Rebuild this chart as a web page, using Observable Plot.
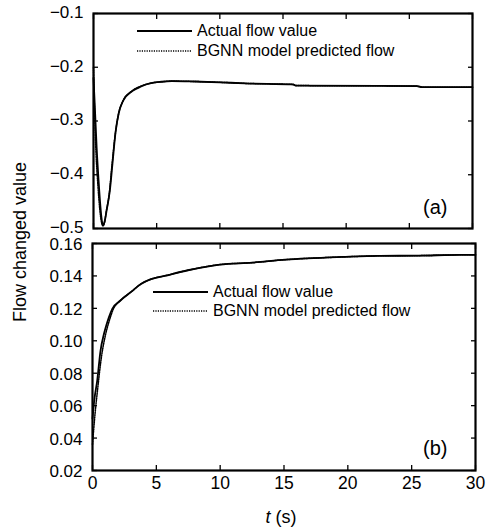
<!DOCTYPE html>
<html><head><meta charset="utf-8">
<script src="https://cdn.jsdelivr.net/npm/d3@7"></script>
<script src="https://cdn.jsdelivr.net/npm/@observablehq/plot@0.6"></script>
<style>
body{margin:0;background:#fff;font-family:"Liberation Sans",Arial,sans-serif;color:#000;}
#fig{position:relative;width:489px;height:530px;overflow:hidden;}
.pl{position:absolute;left:0;}
.lg{position:absolute;font-size:16px;white-space:nowrap;line-height:1;}
.abs{position:absolute;white-space:nowrap;line-height:1;}
</style></head><body><div id="fig"></div>
<script>
// ---- Panel (a) data ----
const tActualA = [0, 0.1, 0.25, 0.4, 0.55, 0.68, 0.77, 0.9, 1.05, 1.29, 1.5, 1.75, 2.0, 2.35, 2.97, 3.5, 4.05, 5.37, 6.2, 8, 10, 12, 15.8, 16, 25.6, 26, 30];
const actualA = [-0.22, -0.27, -0.35, -0.41, -0.46, -0.488, -0.494, -0.485, -0.465, -0.43, -0.38, -0.32, -0.285, -0.262, -0.246, -0.239, -0.233, -0.227, -0.2257, -0.2265, -0.228, -0.230, -0.232, -0.234, -0.235, -0.237, -0.237];
const tPredA = [0, 0.08, 0.2, 0.35, 0.5, 0.65, 0.75, 0.88, 1.0, 1.25, 1.45, 1.72, 1.98, 2.35, 3.0, 4.0, 5.4, 6.2, 8, 10, 12, 15.8, 16, 25.6, 26, 30];
const predA = [-0.2, -0.28, -0.36, -0.42, -0.465, -0.49, -0.495, -0.488, -0.47, -0.435, -0.385, -0.325, -0.287, -0.262, -0.245, -0.233, -0.227, -0.2257, -0.2265, -0.228, -0.230, -0.232, -0.234, -0.235, -0.237, -0.237];
const yTicksA = [-0.5, -0.4, -0.3, -0.2, -0.1];

// ---- Panel (b) data ----
const tActualB = [0, 0.15, 0.37, 0.63, 0.89, 1.1, 1.29, 1.55, 2.21, 3.0, 3.79, 4.58, 5.63, 7.47, 9.97, 12.5, 15.1, 19.6, 22.5, 25.5, 28.8, 30];
const actualB = [0.052, 0.064, 0.0755, 0.094, 0.104, 0.110, 0.1146, 0.1197, 0.125, 0.130, 0.135, 0.138, 0.140, 0.1435, 0.147, 0.1482, 0.150, 0.1517, 0.1524, 0.1525, 0.153, 0.153];
const tPredB = [0, 0.2, 0.4, 0.7, 1.0, 1.3, 1.6, 2.21, 3.0, 3.79, 4.58, 5.63, 7.47, 9.97, 12.5, 15.1, 19.6, 22.5, 25.5, 28.8, 30];
const predB = [0.036, 0.055, 0.07, 0.09, 0.103, 0.112, 0.119, 0.125, 0.130, 0.135, 0.138, 0.140, 0.1435, 0.147, 0.1482, 0.150, 0.1517, 0.1524, 0.1525, 0.153, 0.153];
const yTicksB = [0.02, 0.04, 0.06, 0.08, 0.10, 0.12, 0.14, 0.16];

const xTicks = [0, 5, 10, 15, 20, 25, 30];
const seriesNames = ["Actual flow value", "BGNN model predicted flow"];
const panelLabels = ["(a)", "(b)"];
const yTitle = "Flow changed value";

const font = '"Liberation Sans", Arial, sans-serif';
const fig = document.getElementById("fig");

function panel({t1, v1, t2, v2, yDomain, yTicks, yFmt, yDy, showX, height, mL, mR, mT, mB}) {
  const blank = () => "";
  const marks = [
    Plot.line(t2.map((t, i) => ({t, v: v2[i]})), {x: "t", y: "v", stroke: "#000", strokeWidth: 1.5, strokeDasharray: "1.2,1.2", curve: "monotone-x"}),
    Plot.line(t1.map((t, i) => ({t, v: v1[i]})), {x: "t", y: "v", stroke: "#000", strokeWidth: 1.8, curve: "monotone-x"}),
    Plot.axisY({anchor: "left", ticks: yTicks, tickSize: 0, tickPadding: 10, tickFormat: d3.format(yFmt), label: null, fontSize: 17, dy: yDy}),
    Plot.axisY({anchor: "left", ticks: yTicks, tickSize: -5, tickFormat: blank, label: null, strokeWidth: 1.3}),
    Plot.axisY({anchor: "right", ticks: yTicks, tickSize: -5, tickFormat: blank, label: null, strokeWidth: 1.3}),
    Plot.axisX({anchor: "top", ticks: xTicks, tickSize: -5, tickFormat: blank, label: null, strokeWidth: 1.3}),
    Plot.axisX({anchor: "bottom", ticks: xTicks, tickSize: -5, tickPadding: 11, tickFormat: showX ? d3.format("d") : blank, label: null, fontSize: 17.5, strokeWidth: 1.3}),
    Plot.frame({stroke: "#000", strokeWidth: 2.2})
  ];
  return Plot.plot({
    width: 489, height,
    marginLeft: mL, marginRight: mR, marginTop: mT, marginBottom: mB,
    x: {domain: [0, 30]},
    y: {domain: yDomain},
    style: {fontFamily: font, fontSize: "17.5px", background: "transparent", overflow: "visible", color: "#000"},
    marks
  });
}

const pA = panel({t1: tActualA, v1: actualA, t2: tPredA, v2: predA, yDomain: [-0.5, -0.1], yTicks: yTicksA, yFmt: ".1f", yDy: -1, showX: false, height: 240, mL: 93, mR: 17, mT: 13, mB: 12});
pA.classList.add("pl"); pA.style.top = "0px";
fig.appendChild(pA);

const pB = panel({t1: tActualB, v1: actualB, t2: tPredB, v2: predB, yDomain: [0.02, 0.16], yTicks: yTicksB, yFmt: ".2f", yDy: 1, showX: true, height: 300, mL: 92, mR: 14, mT: 13, mB: 60});
pB.classList.add("pl"); pB.style.top = "230px";
fig.appendChild(pB);

// legends
function legend(x, y1, y2) {
  const rows = [[y1, null], [y2, "1.2,1.2"]];
  rows.forEach(([y, dash], i) => {
    const d = document.createElement("div");
    d.className = "lg";
    d.style.left = (x + 60) + "px";
    d.style.top = (y - 8) + "px";
    d.textContent = seriesNames[i];
    fig.appendChild(d);
    const s = document.createElementNS("http://www.w3.org/2000/svg", "svg");
    s.setAttribute("width", 58); s.setAttribute("height", 6);
    s.style.position = "absolute"; s.style.left = x + "px"; s.style.top = (y - 3) + "px";
    const l = document.createElementNS("http://www.w3.org/2000/svg", "line");
    l.setAttribute("x1", 0); l.setAttribute("x2", 55); l.setAttribute("y1", 3); l.setAttribute("y2", 3);
    l.setAttribute("stroke", "#000"); l.setAttribute("stroke-width", dash ? 1.6 : 1.8);
    if (dash) l.setAttribute("stroke-dasharray", dash);
    s.appendChild(l); fig.appendChild(s);
  });
}
legend(137, 31, 51);
legend(153, 292, 311);

// panel labels
[[panelLabels[0], 423, 197], [panelLabels[1], 423, 438]].forEach(([txt, x, y]) => {
  const d = document.createElement("div");
  d.className = "abs"; d.style.fontSize = "20px";
  d.style.left = x + "px"; d.style.top = y + "px"; d.textContent = txt;
  fig.appendChild(d);
});

// y title
const yt = document.createElement("div");
yt.className = "abs"; yt.style.fontSize = "18px";
yt.textContent = yTitle;
yt.style.left = "20px"; yt.style.top = "242px";
yt.style.transform = "translate(-50%,-50%) rotate(-90deg)";
fig.appendChild(yt);

// x title
const xt = document.createElement("div");
xt.className = "abs"; xt.style.fontSize = "18px";
xt.innerHTML = '<i>t</i> (s)';
xt.style.left = "281px"; xt.style.top = "517px";
xt.style.transform = "translate(-50%,-50%)";
fig.appendChild(xt);
</script>
</body></html>
